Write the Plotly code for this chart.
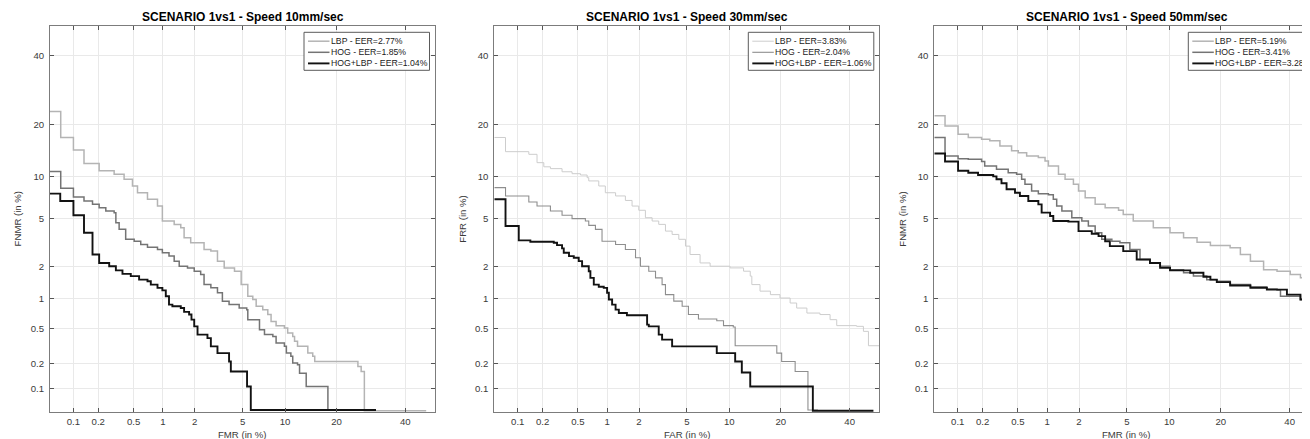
import plotly.graph_objects as go
from statistics import NormalDist

_ND = NormalDist()


def probit(p):
    return _ND.inv_cdf(p / 100.0)


# ---------------- data (values in %) ----------------
TICK_VALUES = [0.1, 0.2, 0.5, 1, 2, 5, 10, 20, 40]
TICK_LABELS = ["0.1", "0.2", "0.5", "1", "2", "5", "10", "20", "40"]

TITLES = ["SCENARIO 1vs1 - Speed 10mm/sec",
          "SCENARIO 1vs1 - Speed 30mm/sec",
          "SCENARIO 1vs1 - Speed 50mm/sec"]
X_LABELS = ["FMR (in %)", "FAR (in %)", "FMR (in %)"]
Y_LABELS = ["FNMR (in %)", "FRR (in %)", "FNMR (in %)"]
SERIES = ["LBP", "HOG", "HOG+LBP"]
EER = [[2.77, 1.85, 1.04], [3.83, 2.04, 1.06], [5.19, 3.41, 3.28]]

# Panel 1 - 10 mm/sec
p1_lbp_x = [0.049, 0.069, 0.10, 0.135, 0.205, 0.305, 0.394, 0.486, 0.55, 0.70, 0.885, 0.99, 1.29, 1.49,
            1.60, 1.84, 2.42, 2.77, 3.15, 3.58, 4.33, 4.88, 5.48, 5.97, 6.32, 7.05, 7.65, 8.06, 8.72,
            9.9, 10.4, 11.2, 11.5, 12.0, 13.85, 14.8, 15.2, 25.5, 26.4, 27.3, 27.3, 47.0]
p1_lbp_y = [23.3, 17.1, 14.5, 12.05, 10.85, 10.3, 9.57, 8.63, 7.76, 6.98, 6.24, 4.82, 4.54, 4.27,
            3.55, 3.23, 2.84, 2.75, 2.25, 1.96, 1.83, 1.375, 1.06, 0.985, 0.845, 0.78, 0.695, 0.59,
            0.532, 0.503, 0.444, 0.407, 0.36, 0.316, 0.265, 0.243, 0.212, 0.185, 0.161, 0.106,
            0.052, 0.052]
p1_hog_x = [0.049, 0.069, 0.10, 0.135, 0.171, 0.205, 0.245, 0.305, 0.319, 0.347, 0.41, 0.507, 0.595,
            0.70, 0.885, 0.99, 1.15, 1.29, 1.44, 1.72, 1.98, 2.26, 2.42, 2.77, 3.15, 3.46, 3.92, 4.71,
            5.38, 5.48, 6.68, 7.25, 8.29, 8.72, 9.9, 10.2, 10.9, 11.2, 12.0, 12.35, 13.55, 13.55,
            18.0, 18.0, 30.7]
p1_hog_y = [10.73, 8.33, 7.24, 6.78, 6.42, 6.07, 5.74, 5.58, 4.68, 4.15, 3.45, 3.33, 3.13, 2.97,
            2.84, 2.66, 2.49, 2.25, 2.03, 1.96, 1.83, 1.71, 1.375, 1.28, 1.15, 0.95, 0.877, 0.81,
            0.78, 0.615, 0.481, 0.426, 0.407, 0.344, 0.316, 0.265, 0.243, 0.203, 0.194, 0.154,
            0.147, 0.106, 0.106, 0.053, 0.053]
p1_fus_x = [0.049, 0.068, 0.10, 0.135, 0.171, 0.205, 0.268, 0.319, 0.378, 0.466, 0.572, 0.70, 0.757,
            0.885, 0.99, 1.07, 1.15, 1.24, 1.49, 1.60, 1.78, 1.87, 1.98, 2.12, 2.59, 2.77, 3.15,
            3.92, 4.05, 5.41, 5.77, 30.7]
p1_fus_y = [7.65, 6.78, 5.33, 3.90, 2.57, 2.17, 2.03, 1.86, 1.73, 1.65, 1.53, 1.48, 1.375, 1.28,
            1.21, 1.06, 0.877, 0.845, 0.81, 0.74, 0.695, 0.615, 0.523, 0.426, 0.39, 0.316, 0.265,
            0.212, 0.161, 0.106, 0.053, 0.053]

# Panel 2 - 30 mm/sec
p2_lbp_x = [0.050, 0.070, 0.137, 0.172, 0.207, 0.247, 0.335, 0.432, 0.532, 0.626, 0.651, 0.825,
            0.96, 1.21, 1.50, 1.73, 1.99, 2.28, 2.61, 2.97, 3.38, 3.83, 4.33, 4.88, 5.29, 6.28, 7.41,
            10.1, 12.3, 13.5, 13.8, 15.4, 17.6, 19.8, 22.3, 24.0, 26.8, 30.6, 33.7, 35.8, 42.3,
            44.6, 46.3, 49.9]
p2_lbp_y = [17.1, 14.2, 13.7, 12.2, 11.5, 11.2, 10.7, 10.4, 10.2, 9.8, 9.33, 8.63, 7.76, 7.37,
            6.85, 6.24, 5.81, 5.11, 4.82, 4.54, 4.02, 3.78, 3.45, 3.03, 2.57, 2.17, 2.03, 1.96,
            1.83, 1.65, 1.375, 1.19, 1.10, 1.02, 0.91, 0.81, 0.72, 0.695, 0.615, 0.532, 0.523,
            0.462, 0.321, 0.321]
p2_hog_x = [0.050, 0.070, 0.137, 0.172, 0.247, 0.335, 0.432, 0.60, 0.651, 0.763, 0.89, 1.21, 1.50,
            1.86, 2.06, 2.44, 2.79, 3.17, 3.38, 3.95, 4.60, 5.14, 6.11, 8.24, 9.15, 10.6, 10.9,
            19.05, 20.2, 23.6, 27.1, 30.0]
p2_hog_y = [8.41, 7.37, 6.68, 6.24, 5.74, 5.33, 5.03, 4.82, 4.46, 4.15, 3.33, 3.13, 2.84, 2.41,
            2.03, 1.83, 1.59, 1.375, 1.10, 0.95, 0.845, 0.695, 0.626, 0.60, 0.532, 0.514, 0.321,
            0.265, 0.212, 0.161, 0.053, 0.053]
p2_fus_x = [0.050, 0.070, 0.103, 0.143, 0.270, 0.294, 0.335, 0.35, 0.40, 0.451, 0.51, 0.554, 0.651,
            0.677, 0.734, 0.825, 0.926, 1.00, 1.04, 1.12, 1.21, 1.30, 1.55, 2.36, 2.44, 2.97, 3.17,
            3.83, 8.24, 10.9, 12.0, 13.5, 28.5, 48.0]
p2_fus_y = [6.98, 4.41, 3.38, 3.29, 3.23, 3.09, 2.90, 2.66, 2.49, 2.41, 2.25, 2.03, 1.83, 1.59,
            1.375, 1.31, 1.28, 1.15, 0.985, 0.877, 0.78, 0.72, 0.684, 0.545, 0.523, 0.426, 0.375,
            0.316, 0.265, 0.212, 0.157, 0.106, 0.052, 0.052]

# Panel 3 - 50 mm/sec
p3_lbp_x = [0.050, 0.069, 0.101, 0.135, 0.195, 0.243, 0.317, 0.427, 0.504, 0.619, 0.817, 0.954,
            1.03, 1.29, 1.49, 1.78, 1.98, 2.27, 2.77, 3.36, 4.31, 4.69, 5.59, 7.80, 10.1, 12.3,
            14.8, 17.6, 22.3, 25.0, 27.8, 31.7, 35.9, 40.2, 43.6, 47.0, 49.9]
p3_lbp_y = [22.2, 19.7, 17.8, 17.1, 16.7, 16.4, 15.3, 14.4, 14.0, 13.4, 13.1, 12.5, 11.65, 10.3,
            9.57, 8.86, 7.98, 7.17, 6.42, 6.07, 5.81, 5.41, 4.82, 4.27, 3.90, 3.55, 3.27, 3.07,
            2.93, 2.57, 2.25, 1.89, 1.83, 1.71, 1.59, 1.53, 1.50]
p3_hog_x = [0.050, 0.069, 0.101, 0.135, 0.195, 0.212, 0.29, 0.392, 0.484, 0.548, 0.594, 0.697,
            0.817, 1.03, 1.15, 1.24, 1.39, 1.72, 2.12, 2.42, 2.77, 3.15, 3.81, 4.42, 5.27, 6.27,
            7.39, 8.68, 10.1, 12.3, 14.1, 16.8, 19.05, 22.3, 27.8, 32.7, 35.9, 37.0, 43.6, 47.0,
            49.9]
p3_hog_y = [17.1, 13.4, 12.9, 12.8, 12.4, 11.65, 11.1, 10.55, 10.3, 9.57, 8.86, 7.98, 7.65, 7.5,
            6.98, 6.24, 5.74, 5.11, 4.82, 4.41, 3.90, 3.45, 3.33, 3.23, 2.84, 2.33, 2.17, 2.03,
            1.89, 1.77, 1.65, 1.53, 1.48, 1.375, 1.31, 1.25, 1.22, 1.06, 0.985, 0.95, 0.95]
p3_fus_x = [0.050, 0.069, 0.101, 0.135, 0.177, 0.266, 0.29, 0.33, 0.376, 0.465, 0.525, 0.644,
            0.817, 0.882, 1.07, 1.15, 1.60, 1.98, 2.59, 2.96, 3.36, 3.67, 4.69, 5.93, 7.39, 8.68,
            10.1, 13.5, 16.1, 17.6, 19.05, 22.3, 27.8, 32.7, 39.1, 43.6, 47.0, 49.9]
p3_fus_y = [13.85, 12.4, 10.85, 10.55, 10.2, 10.0, 9.57, 9.0, 8.2, 7.76, 7.37, 6.78, 6.42, 5.58,
            5.26, 4.82, 4.77, 4.02, 3.83, 3.66, 3.33, 3.03, 2.75, 2.33, 2.17, 1.96, 1.86, 1.77,
            1.63, 1.53, 1.45, 1.35, 1.28, 1.23, 1.10, 0.985, 0.90, 0.88]

PANELS = [
    [(p1_lbp_x, p1_lbp_y), (p1_hog_x, p1_hog_y), (p1_fus_x, p1_fus_y)],
    [(p2_lbp_x, p2_lbp_y), (p2_hog_x, p2_hog_y), (p2_fus_x, p2_fus_y)],
    [(p3_lbp_x, p3_lbp_y), (p3_hog_x, p3_hog_y), (p3_fus_x, p3_fus_y)],
]

# ---------------- styling ----------------
SCREEN_W, SCREEN_H = 1310, 439
OFF = 8.0                      # default page (body) margin in the browser
W, H = SCREEN_W - OFF, SCREEN_H - OFF
FONT = "Liberation Sans, Arial, Helvetica, sans-serif"
COLORS = [["#b4b4b4", "#747474", "#121212"],
          ["#cdcdcd", "#8e8e8e", "#121212"],
          ["#b4b4b4", "#747474", "#121212"]]
WIDTHS = [[1.5, 1.5, 1.9], [1.0, 1.1, 1.9], [1.5, 1.5, 1.9]]

PANEL_LEFT = [50.0, 494.3, 934.3]      # screen pixels
PANEL_W = 385.0
PLOT_TOP, PLOT_BOT = 26.0, 412.0
Z_MIN = probit(0.05)
PX_PER_UNIT = PANEL_W / (-Z_MIN)


def fx(px):
    return (px - OFF) / W


def fy(py):
    return 1 - (py - OFF) / H


fig = go.Figure()

tickz = [probit(v) for v in TICK_VALUES]
shapes = []
annotations = []

for k in range(3):
    left = PANEL_LEFT[k]
    right = min(left + PANEL_W, SCREEN_W)
    x_hi = Z_MIN + (right - left) / PX_PER_UNIT
    xa = "x" if k == 0 else f"x{k + 1}"
    ya = "y" if k == 0 else f"y{k + 1}"
    for s in range(3):
        xs, ys = PANELS[k][s]
        assert len(xs) == len(ys), (k, s, len(xs), len(ys))
        fig.add_trace(go.Scatter(
            x=[probit(v) for v in xs], y=[probit(v) for v in ys],
            mode="lines", line=dict(color=COLORS[k][s], width=WIDTHS[k][s], shape="hv"),
            name=SERIES[s], xaxis=xa, yaxis=ya, showlegend=False, hoverinfo="skip"))

    axis_common = dict(
        tickvals=tickz, ticktext=TICK_LABELS, showgrid=True, gridcolor="#e9e9e9", gridwidth=1,
        zeroline=False, showline=True, linecolor="#7c7c7c", linewidth=1,
        ticks="inside", ticklen=4, tickcolor="#555555", tickwidth=1,
        tickfont=dict(family=FONT, size=9.6, color="#3a3a3a"),
    )
    xkey = "xaxis" if k == 0 else f"xaxis{k + 1}"
    ykey = "yaxis" if k == 0 else f"yaxis{k + 1}"
    fig.update_layout({
        xkey: dict(axis_common, domain=[fx(left), min(fx(right), 1.0)], range=[Z_MIN, x_hi],
                   anchor=ya, mirror="ticks", ticklabelstandoff=0),
        ykey: dict(axis_common, domain=[fy(PLOT_BOT), fy(PLOT_TOP)], range=[Z_MIN, 0.0],
                   anchor=xa, mirror=("ticks" if k < 2 else False), ticklabelstandoff=3),
    })

    cx = left + PANEL_W / 2
    annotations.append(dict(text=f"<b>{TITLES[k]}</b>", x=fx(cx), y=fy(17.3), xref="paper",
                            yref="paper", xanchor="center", yanchor="middle", showarrow=False,
                            font=dict(family=FONT, size=12, color="#000000")))
    annotations.append(dict(text=X_LABELS[k], x=fx(cx), y=fy(434.5), xref="paper", yref="paper",
                            xanchor="center", yanchor="middle", showarrow=False,
                            font=dict(family=FONT, size=9.6, color="#3a3a3a")))
    annotations.append(dict(text=Y_LABELS[k], x=fx(left - 32.6), y=fy((PLOT_TOP + PLOT_BOT) / 2),
                            xref="paper", yref="paper", xanchor="center", yanchor="middle",
                            textangle=-90, showarrow=False,
                            font=dict(family=FONT, size=9.6, color="#3a3a3a")))

    # legend box (MATLAB style)
    bl = left + 254.0
    br = bl + 125.5
    bt, bb = 32.3, 70.3
    shapes.append(dict(type="rect", xref="paper", yref="paper", x0=fx(bl), x1=fx(br),
                       y0=fy(bb), y1=fy(bt), fillcolor="white",
                       line=dict(color="#5a5a5a", width=1), layer="above"))
    rows = [41.2, 52.3, 63.4]
    for s in range(3):
        shapes.append(dict(type="line", xref="paper", yref="paper", x0=fx(bl + 4), x1=fx(bl + 25.5),
                           y0=fy(rows[s]), y1=fy(rows[s]),
                           line=dict(color=COLORS[k][s], width=WIDTHS[k][s]), layer="above"))
        annotations.append(dict(text=f"{SERIES[s]} - EER={EER[k][s]:.2f}%", x=fx(bl + 25.5),
                                y=fy(rows[s]), xref="paper", yref="paper", xanchor="left",
                                yanchor="middle", showarrow=False, borderpad=0,
                                font=dict(family=FONT, size=8.7, color="#1a1a1a")))

fig.update_layout(
    width=W, height=H, margin=dict(l=0, r=0, t=0, b=0, pad=0, autoexpand=False),
    paper_bgcolor="white", plot_bgcolor="white", showlegend=False,
    shapes=shapes, annotations=annotations, font=dict(family=FONT),
)

fig.write_html("out.html", config={"displayModeBar": False})
